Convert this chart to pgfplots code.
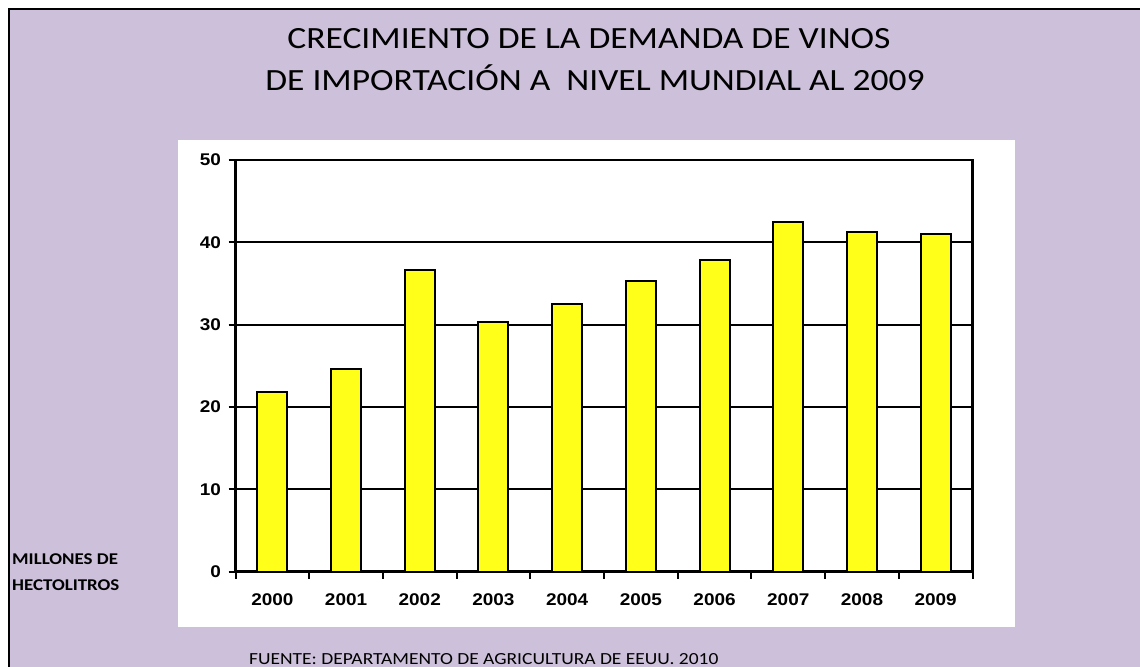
\documentclass[border=0pt]{standalone}
\usepackage{pgfplots}
\pgfplotsset{compat=1.18}
\usepackage{fontspec}
\setmainfont{Carlito}[FakeStretch=1.15]
\newfontfamily\arialfont{Liberation Sans}[FakeStretch=1.12]
\definecolor{lav}{HTML}{CCC0DA}
\definecolor{baryellow}{HTML}{FFFF1A}
\begin{document}
\begin{tikzpicture}[x=1bp,y=1bp]
\useasboundingbox (0,0) rectangle (1140,667);
\fill[white] (0,0) rectangle (1140,667);
\fill[lav] (9,0) rectangle (1140,658);
\draw[line width=2.5bp] (9,0) -- (9,658) -- (1140,658);
\fill[white] (178,40) rectangle (1015,527);
\coordinate (AX) at (235.5,95.3);
\node[anchor=base, inner sep=0pt, font=\fontsize{31}{38}\selectfont] at (589,667-48.5) {CRECIMIENTO DE LA DEMANDA DE VINOS};
\node[anchor=base, inner sep=0pt, font=\fontsize{31}{38}\selectfont] at (595,667-91) {DE IMPORTACIÓN A\ \ NIVEL MUNDIAL AL 2009};
\node[anchor=base west, inner sep=0pt, font=\bfseries\fontsize{16.5}{19}\selectfont] at (12,667-564.5) {MILLONES DE};
\node[anchor=base west, inner sep=0pt, font=\bfseries\fontsize{16.5}{19}\selectfont] at (12,667-591) {HECTOLITROS};
\node[anchor=base west, inner sep=0pt, font=\fontsize{17}{20}\selectfont] at (249,667-665) {FUENTE: DEPARTAMENTO DE AGRICULTURA DE EEUU. 2010};
\begin{axis}[
  at={(AX)}, anchor=south west,
  width=737bp, height=411.7bp, scale only axis,
  ybar, bar width=30bp, bar shift=0pt,
  xmin=-0.5, xmax=9.5, ymin=0, ymax=50,
  xtick={-0.5,0.5,1.5,2.5,3.5,4.5,5.5,6.5,7.5,8.5,9.5},
  x tick label as interval,
  xticklabels={2000,2001,2002,2003,2004,2005,2006,2007,2008,2009},
  ytick={0,10,20,30,40,50},
  ymajorgrids,
  major grid style={line width=2bp, black},
  axis line style={line width=2.5bp, black},
  tick style={line width=2bp, black},
  tick align=outside, major tick length=7bp,
  xtick pos=bottom, ytick pos=left,
  tick label style={font=\arialfont\bfseries\fontsize{17}{20}\selectfont, text=black},
  /pgf/number format/assume math mode=true,
  xticklabel style={yshift=-11bp},
  yticklabel style={xshift=-4bp},
]
\addplot[fill=baryellow, draw=black, line width=2bp] coordinates {
(0,21.8) (1,24.6) (2,36.7) (3,30.3) (4,32.5) (5,35.3) (6,37.9) (7,42.5) (8,41.3) (9,41.0)
};
\end{axis}
\end{tikzpicture}
\end{document}
